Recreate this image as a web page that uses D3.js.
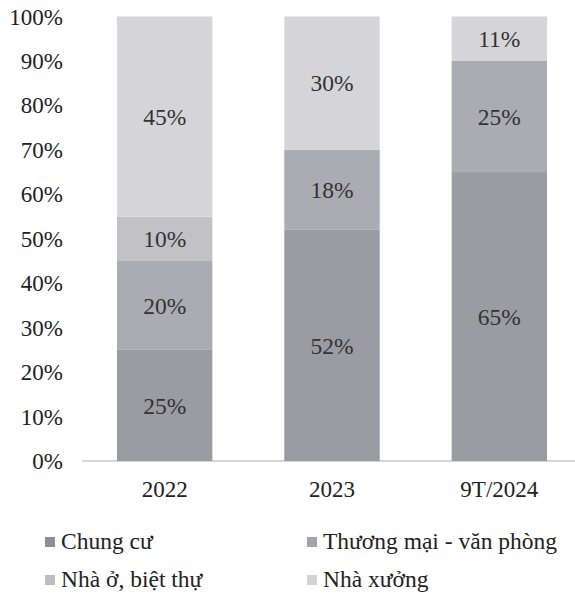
<!DOCTYPE html>
<html>
<head>
<meta charset="utf-8">
<script src="https://cdn.jsdelivr.net/npm/d3@7"></script>
<style>
  body { margin: 0; background: #fff; }
  svg text { font-family: "Liberation Serif", "DejaVu Serif", serif; }
</style>
</head>
<body>
<div id="chart"></div>
<script>
var years = ["2022", "2023", "9T/2024"];
var seriesNames = ["Chung cư", "Thương mại - văn phòng", "Nhà ở, biệt thự", "Nhà xưởng"];
var chungCu = [25, 52, 65];
var thuongMai = [20, 18, 25];
var nhaO = [10, 0, 0];
var nhaXuong = [45, 30, 11];
var yTicks = [0, 10, 20, 30, 40, 50, 60, 70, 80, 90, 100];

var colors = ["#9b9ca1", "#abacb1", "#c2c2c6", "#d5d5d9"];
var legendColors = ["#8e8f94", "#a4a5aa", "#bdbdc1", "#d3d3d7"];

var width = 575;
var height = 598;

var svg = d3.select('#chart')
            .append('svg')
                .attr("width", width)
                .attr("height", height);

var rows = years.map(function(y, i){
    return {year: y, "Chung cư": chungCu[i], "Thương mại - văn phòng": thuongMai[i],
            "Nhà ở, biệt thự": nhaO[i], "Nhà xưởng": nhaXuong[i]};
});

var stacked = d3.stack().keys(seriesNames)(rows);

var xScale = d3.scaleBand()
                .domain(years)
                .range([81, 583])
                .paddingInner(0.43)
                .paddingOuter(0.215);

var yScale = d3.scaleLinear()
                .domain([0, 100])
                .range([461, 16.5])
                .clamp(true);

// baseline
svg.append("line")
    .attr("x1", 82).attr("x2", 575)
    .attr("y1", yScale(0)).attr("y2", yScale(0))
    .attr("stroke", "#c8c8c8")
    .attr("stroke-width", 1.5);

// y tick labels
svg.append("g")
    .selectAll("text")
    .data(yTicks)
    .enter()
    .append("text")
        .attr("x", 63)
        .attr("y", function(d){ return yScale(d); })
        .attr("dy", "0.35em")
        .attr("text-anchor", "end")
        .attr("font-size", 23)
        .attr("fill", "#222")
        .text(function(d){ return d + "%"; });

// bars
var layers = svg.selectAll("g.layer")
                .data(stacked)
                .enter()
                .append("g")
                    .attr("class", "layer")
                    .attr("fill", function(d, i){ return colors[i]; });

layers.selectAll("rect")
    .data(function(d){ return d; })
    .enter()
    .append("rect")
        .attr("x", function(d){ return xScale(d.data.year); })
        .attr("y", function(d){ return yScale(d[1]); })
        .attr("width", xScale.bandwidth())
        .attr("height", function(d){ return yScale(d[0]) - yScale(d[1]); });

// value labels
layers.selectAll("text")
    .data(function(d){ return d.filter(function(p){ return p[1] - p[0] > 0; }); })
    .enter()
    .append("text")
        .attr("x", function(d){ return xScale(d.data.year) + xScale.bandwidth() / 2; })
        .attr("y", function(d){ return (yScale(d[0]) + yScale(d[1])) / 2; })
        .attr("dy", "0.35em")
        .attr("text-anchor", "middle")
        .attr("font-size", 23.5)
        .attr("fill", "#333")
        .text(function(d){ return (d[1] - d[0]) + "%"; });

// x labels
svg.append("g")
    .selectAll("text")
    .data(years)
    .enter()
    .append("text")
        .attr("x", function(d){ return xScale(d) + xScale.bandwidth() / 2; })
        .attr("y", 489)
        .attr("dy", "0.35em")
        .attr("text-anchor", "middle")
        .attr("font-size", 23)
        .attr("fill", "#222")
        .text(function(d){ return d; });

// legend
var legendPos = [[45, 549], [307, 549], [45, 587], [307, 587]];
var legend = svg.selectAll("g.legend")
                .data(seriesNames)
                .enter()
                .append("g")
                    .attr("class", "legend")
                    .attr("transform", function(d, i){
                        return "translate(" + legendPos[i][0] + "," + legendPos[i][1] + ")";
                    });

legend.append("rect")
    .attr("x", 0).attr("y", -12)
    .attr("width", 10).attr("height", 10)
    .attr("fill", function(d, i){ return legendColors[i]; });

legend.append("text")
    .attr("x", 16)
    .attr("font-size", 23.5)
    .attr("fill", "#222")
    .text(function(d){ return d; });
</script>
</body>
</html>
